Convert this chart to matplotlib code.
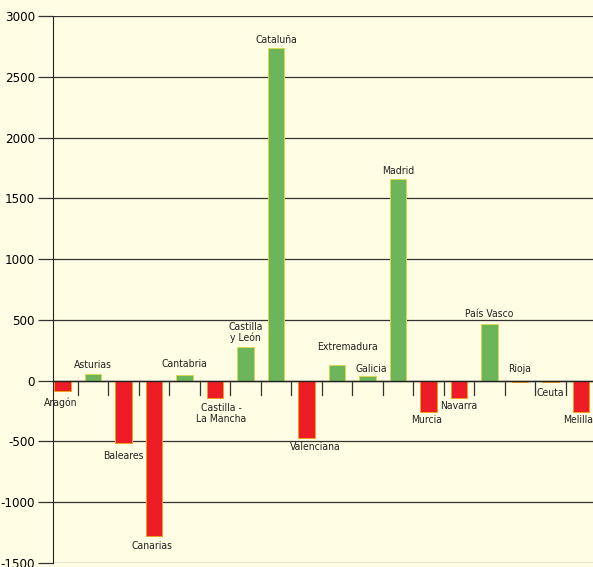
import matplotlib.pyplot as plt
from matplotlib import font_manager as fm
import numpy as np

regions = ["Aragón", "Asturias", "Baleares", "Canarias", "Cantabria",
           "Castilla -\nLa Mancha", "Castilla\ny León", "Cataluña", "Valenciana",
           "Extremadura", "Galicia", "Madrid", "Murcia", "Navarra",
           "País Vasco", "Rioja", "Ceuta", "Melilla"]
values = [-85, 55, -515, -1280, 45, -145, 275, 2735, -470, 130, 40, 1660,
          -260, -140, 465, -8, -12, -260]

# label offsets in pixels (dx, dy from bar end)
label_dx = [-2, 0, 0, -2, 0, 6, 0, 0, 9, 10, 4, 0, -2, 0, 0, 0, 0, -3]
label_dy = [7, 4, 8, 5, 6, 5, 4, 3, 4, 13, 2, 3, 3, 3, 5, 8, 6, 3]

bg = "#fffde3"
green = "#6db55a"
red = "#ee1c24"

plt.rcParams["axes.unicode_minus"] = False

# a condensed face if the system has one, else Liberation Sans
cond = fm.FontProperties(family="DejaVu Sans", stretch="condensed")
if "Condensed" in fm.findfont(cond):
    font = dict(family="DejaVu Sans", stretch="condensed")
    tick_size, lab_size = 9.5, 7.5
else:
    font = dict(family="Liberation Sans")
    tick_size, lab_size = 9, 6.8

fig = plt.figure(figsize=(5.93, 5.67), dpi=100, facecolor=bg)
ax = fig.add_axes([53 / 593, 4 / 567, 540 / 593, 547 / 567], facecolor=bg)

x = np.arange(len(regions))
vals = np.array(values)
colors = [green if v > 0 else red for v in vals]
edges = ["#d9d84e" if v > 0 else "#f0a020" for v in vals]
ax.bar(x, vals, width=0.54, color=colors, edgecolor=edges, linewidth=0.7, zorder=3)

ax.set_xlim(-0.31, 17.39)
ax.set_ylim(-1500, 3000)
ax.set_yticks(np.arange(-1500, 3001, 500))
ax.set_xticks([])
ax.yaxis.grid(True, color="#333333", linewidth=0.9, zorder=1)
ax.axhline(0, color="#222222", linewidth=1.0, zorder=4)
for s in ["top", "right", "bottom"]:
    ax.spines[s].set_visible(False)
ax.spines["left"].set_color("#222222")
ax.tick_params(axis="y", direction="out", length=11, width=0.9, color="#333333",
               labelsize=tick_size, pad=2)
for lab in ax.get_yticklabels():
    lab.set_fontproperties(fm.FontProperties(size=tick_size, **font))

# separators between categories
for i in range(len(regions) - 1):
    ax.plot([i + 0.5, i + 0.5], [0, -120], color="#333333", linewidth=0.9, zorder=4)

for i, (name, v) in enumerate(zip(regions, values)):
    up = v > 0 or name == "Rioja"
    ax.annotate(name, (i, v), xytext=(label_dx[i] * 0.72, (label_dy[i] if up else -label_dy[i]) * 0.72),
                textcoords="offset points", ha="center",
                va="bottom" if up else "top", fontsize=lab_size,
                color="#222222", linespacing=1.1, **font)

fig.savefig("out.png", dpi=100, facecolor=bg)
